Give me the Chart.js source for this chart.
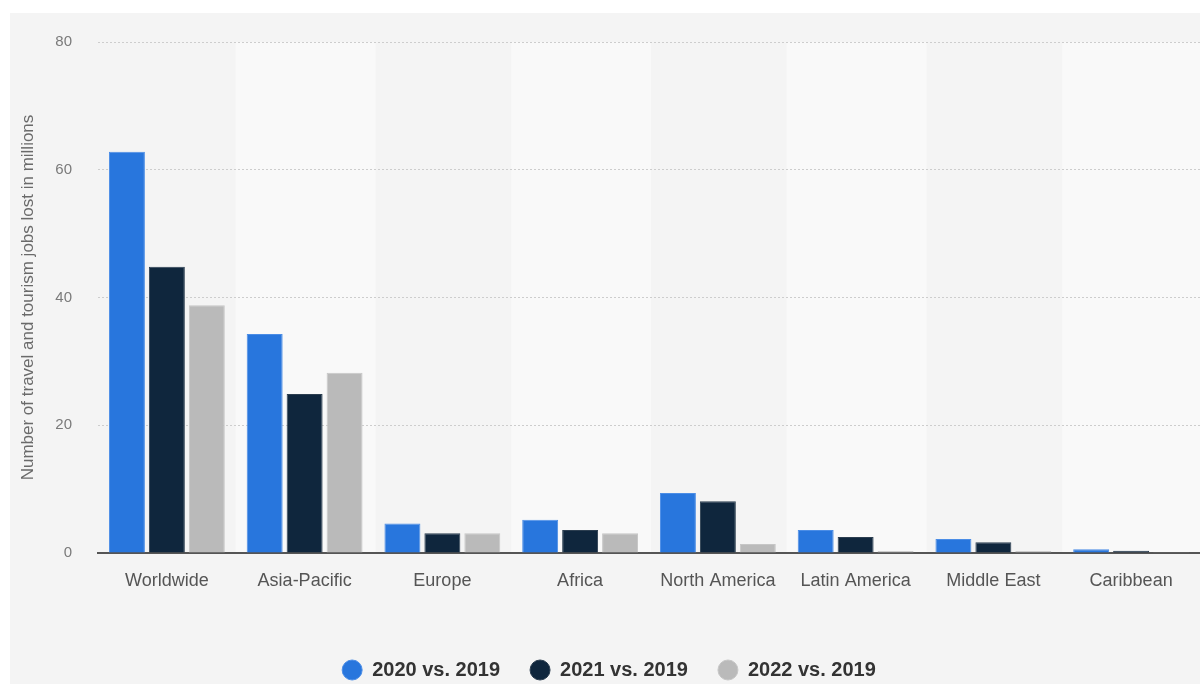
<!DOCTYPE html>
<html>
<head>
<meta charset="utf-8">
<script src="https://cdn.jsdelivr.net/npm/chart.js@4/dist/chart.umd.min.js"></script>
<style>
  html, body { margin: 0; padding: 0; background: #ffffff; overflow: hidden; }
  #wrap { position: relative; width: 1200px; height: 684px; overflow: hidden; }
  #panel { position: absolute; left: 10px; top: 13px; right: 0; bottom: 0; background: #f4f4f4; }
  #chart { position: absolute; left: 0; top: 0; }
</style>
</head>
<body>
<div id="wrap">
  <div id="panel"></div>
  <canvas id="chart" width="1200" height="690"></canvas>
</div>
<script>
// Regions
const regions = ['Worldwide', 'Asia-Pacific', 'Europe', 'Africa', 'North America', 'Latin America', 'Middle East', 'Caribbean'];

// Travel and tourism jobs lost, in millions, compared with 2019
const jobsLost2020 = [62.8, 34.3, 4.6, 5.2, 9.4, 3.6, 2.2, 0.6];
const jobsLost2021 = [44.8, 24.9, 3.1, 3.6, 8.1, 2.5, 1.7, 0.35];
const jobsLost2022 = [38.8, 28.2, 3.1, 3.1, 1.4, 0.3, 0.3, 0.1];

const seriesLabels = ['2020 vs. 2019', '2021 vs. 2019', '2022 vs. 2019'];
const yTicks = [0, 20, 40, 60, 80];

const FONT = "'Liberation Sans', Arial, Helvetica, sans-serif";

// Alternating column shading behind the bars
const bandPlugin = {
  id: 'bands',
  beforeDraw(chart) {
    const { ctx, chartArea, scales } = chart;
    const x = scales.x;
    const w = (chartArea.right - chartArea.left) / regions.length;
    ctx.save();
    ctx.fillStyle = '#f9f9f9';
    regions.forEach((r, i) => {
      if (i % 2 === 1) {
        const cx = x.getPixelForValue(i);
        ctx.fillRect(cx - w / 2, chartArea.top, w + 2, chartArea.bottom - chartArea.top);
      }
    });
    ctx.restore();
  }
};

new Chart(document.getElementById('chart'), {
  type: 'bar',
  data: {
    labels: regions,
    datasets: [
      { label: seriesLabels[0], data: jobsLost2020, backgroundColor: '#2876dd', borderColor: '#4b8de6', borderWidth: 1 },
      { label: seriesLabels[1], data: jobsLost2021, backgroundColor: '#0f263d', borderColor: '#2c3e50', borderWidth: 1 },
      { label: seriesLabels[2], data: jobsLost2022, backgroundColor: '#bababa', borderColor: '#c6c6c6', borderWidth: 1 }
    ]
  },
  options: {
    responsive: false,
    animation: false,
    layout: { padding: { top: 42, left: 18, right: 0, bottom: 0 } },
    datasets: { bar: { categoryPercentage: 0.87, barPercentage: 0.9 } },
    plugins: {
      tooltip: { enabled: false },
      legend: {
        position: 'bottom',
        labels: {
          usePointStyle: true,
          pointStyle: 'circle',
          boxHeight: 14.14,
          pointStyleWidth: 20,
          padding: 30,
          color: '#333333',
          font: { family: FONT, size: 20, weight: 'bold' }
        }
      }
    },
    scales: {
      x: {
        grid: { display: false, drawTicks: false },
        border: { display: true, color: '#555555', width: 2 },
        ticks: { color: '#555555', padding: 17, font: { family: FONT, size: 18 } },
        afterFit(scale) { scale.height = 77; }
      },
      y: {
        min: 0,
        max: 80,
        afterBuildTicks(scale) { scale.ticks = yTicks.map(v => ({ value: v })); },
        grid: {
          drawTicks: false,
          color: ctx => (ctx.tick && ctx.tick.value === 0) ? 'rgba(0,0,0,0)' : '#cdcdcd',
          lineWidth: 1
        },
        border: { display: false, dash: [2, 2] },
        ticks: { color: '#7a7a7a', padding: 26, font: { family: FONT, size: 15 } },
        title: {
          display: true,
          text: 'Number of travel and tourism jobs lost in millions',
          color: '#6a6a6a',
          padding: { top: 0, bottom: 0 },
          font: { family: FONT, size: 17 }
        },
        afterFit(scale) { scale.width = 80; }
      }
    }
  },
  plugins: [bandPlugin]
});
</script>
</body>
</html>
